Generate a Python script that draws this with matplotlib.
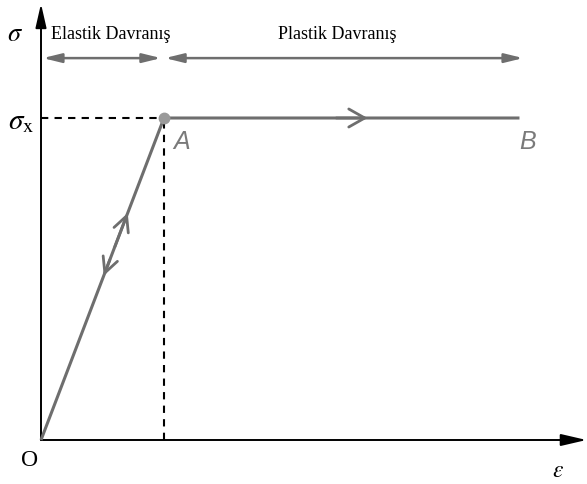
import matplotlib
matplotlib.use("Agg")
import matplotlib.pyplot as plt

plt.rcParams["mathtext.fontset"] = "stix"

# Data (normalised units: yield point A at (1, 1))
eps_yield = 1.0      # strain at A
sig_yield = 1.0      # stress at A (sigma_x)
eps_B = 3.89         # strain at B (end of plastic plateau)
curve_eps = [0.0, eps_yield, eps_B]
curve_sig = [0.0, sig_yield, sig_yield]
region_labels = ["Elastik Davranış", "Plastik Davranış"]
region_bounds = [0.0, eps_yield, 3.92]
region_y = 1.186

gray = "#6e6e6e"

fig = plt.figure(figsize=(5.87, 4.84), dpi=100)
ax = fig.add_axes([0, 0, 1, 1])
ax.set_xlim(-41 / 123, 546 / 123)
ax.set_ylim(-44 / 322, 440 / 322)
ax.axis("off")

# axes with arrows
ax.annotate("", xy=(0, 1.355), xytext=(0, 0),
            arrowprops=dict(arrowstyle="-|>,head_length=1.45,head_width=0.33", color="black", lw=1.4,
                            shrinkA=0, shrinkB=0))
ax.annotate("", xy=(4.435, 0), xytext=(0, 0),
            arrowprops=dict(arrowstyle="-|>,head_length=1.55,head_width=0.36", color="black", lw=1.4,
                            shrinkA=0, shrinkB=0))

# dashed guide lines
ax.plot([0, eps_yield], [sig_yield, sig_yield], ls=(0, (3.5, 3)), color="black", lw=1.5)
ax.plot([eps_yield, eps_yield], [0, sig_yield], ls=(0, (3.5, 3)), color="black", lw=1.5)

# stress-strain curve
ax.plot(curve_eps, curve_sig, color=gray, lw=2.2, solid_capstyle="butt", zorder=3)
ax.plot([eps_yield], [sig_yield], "o", color="#9a9a9a", ms=7.5, zorder=4)

# direction chevrons
def chevron(x0, y0, x1, y1, hl, hw):
    ax.annotate("", xy=(x1, y1), xytext=(x0, y0),
                arrowprops=dict(arrowstyle=f"->,head_length={hl},head_width={hw}", color=gray, lw=2.0,
                                shrinkA=0, shrinkB=0), zorder=3)

slope = sig_yield / eps_yield
chevron(0.60, 0.60 * slope, 0.705, 0.705 * slope, 1.1, 0.55)
chevron(0.56, 0.56 * slope, 0.51, 0.51 * slope, 1.1, 0.55)
chevron(2.4, sig_yield, 2.655, sig_yield, 1.15, 0.65)

# region arrows
ax.annotate("", xy=(0.976, region_y), xytext=(0.015, region_y),
            arrowprops=dict(arrowstyle="<|-|>,head_length=1.1,head_width=0.27", color=gray, lw=1.8,
                            shrinkA=0, shrinkB=0))
ax.annotate("", xy=(region_bounds[2], region_y), xytext=(1.008, region_y),
            arrowprops=dict(arrowstyle="<|-|>,head_length=1.1,head_width=0.27", color=gray, lw=1.8,
                            shrinkA=0, shrinkB=0))
ax.text(0.085, 1.26, region_labels[0], fontsize=13, family="Liberation Serif", ha="left", va="center")
ax.text(2.41, 1.26, region_labels[1], fontsize=13, family="Liberation Serif", ha="center", va="center")

# labels
ax.text(-0.215, 1.262, r"$\sigma$", fontsize=19, ha="center", va="center")
ax.text(-0.165, 0.99, r"$\sigma_{\mathrm{x}}$", fontsize=21, ha="center", va="center")
ax.text(-0.09, -0.065, "O", fontsize=17, family="Liberation Serif", ha="center", va="center")
ax.text(4.2, -0.092, r"$\varepsilon$", fontsize=17, ha="center", va="center")
ax.text(eps_yield + 0.145, sig_yield - 0.073, "A", fontsize=18, family="Liberation Sans",
        style="italic", color="#7a7a7a", ha="center", va="center")
ax.text(eps_B + 0.065, sig_yield - 0.073, "B", fontsize=18, family="Liberation Sans",
        style="italic", color="#7a7a7a", ha="center", va="center")

fig.savefig("out.png", dpi=100)
